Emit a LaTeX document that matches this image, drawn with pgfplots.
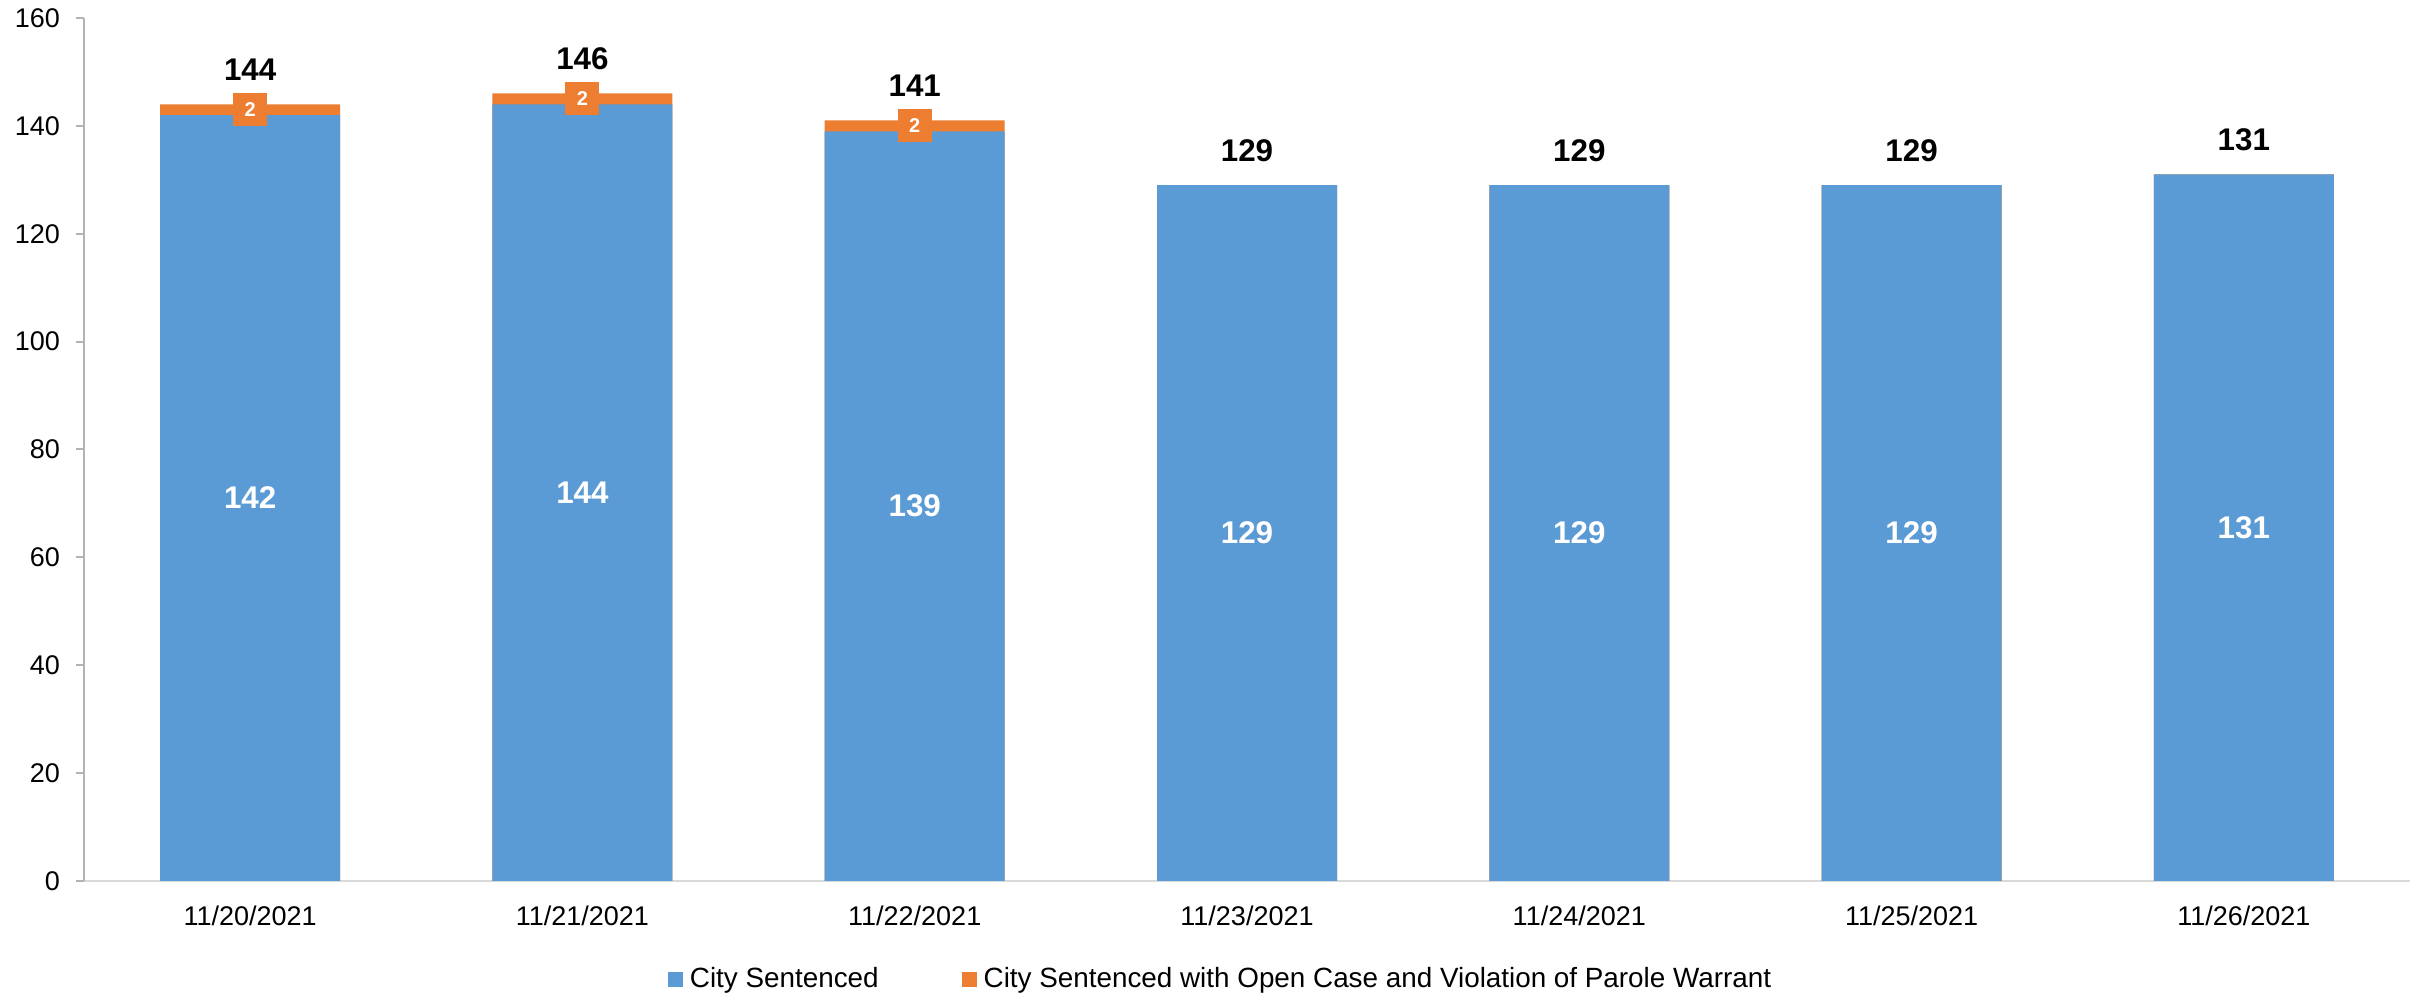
\documentclass[border=0pt]{standalone}
\usepackage{fontspec}
\setmainfont{Liberation Sans}
\usepackage{pgfplots}
\usepackage{pgfplotstable}
\pgfplotsset{compat=1.18}
\definecolor{cBlue}{HTML}{5B9BD5}
\definecolor{cOrange}{HTML}{ED7D31}
\definecolor{cYAxis}{HTML}{B3B3B3}
\definecolor{cXAxis}{HTML}{D9D9D9}
\pgfplotsset{
  sqlegend/.style={legend image code/.code={\fill[##1] (0pt,-2.25pt) rectangle (4.5pt,2.25pt);}},
}
\pgfplotstableread{
x blue orange total
0 142 2 144
1 144 2 146
2 139 2 141
3 129 0 129
4 129 0 129
5 129 0 129
6 131 0 131
}\datatable

\begin{document}
\begin{tikzpicture}
\useasboundingbox (-25.2pt,-34.5pt) rectangle (702.3pt,264.3pt);
\begin{axis}[
  at={(0pt,0pt)}, anchor=south west,
  scale only axis, width=697.8pt, height=258.9pt,
  ybar, bar width=54pt,
  xmin=-0.5, xmax=6.5, ymin=0, ymax=160,
  ytick={0,20,...,160},
  xtick={0,...,6},
  xticklabels={11/20/2021,11/21/2021,11/22/2021,11/23/2021,11/24/2021,11/25/2021,11/26/2021},
  axis x line*=bottom, axis y line*=left,
  x axis line style={draw=cXAxis, line width=0.6pt},
  y axis line style={draw=cYAxis, line width=0.6pt},
  xtick style={draw=none},
  ytick style={draw=cYAxis, line width=0.6pt},
  tick align=outside, major tick length=2.4pt,
  tick label style={font=\fontsize{8.1}{9.7}\selectfont},
  xticklabel style={yshift=-1.4pt},
  yticklabel style={xshift=-1.3pt},
  /pgf/number format/assume math mode=true,
  clip=false,
  legend style={at={(0.4897,-0.1147)}, anchor=center, draw=none, fill=none,
    font=\fontsize{8.35}{10}\selectfont,
    /tikz/every even column/.append style={column sep=23pt}},
  legend columns=2,
  legend cell align=left,
]
% orange: full-height bars (total), blue drawn over them
\addplot[fill=cOrange, draw=none, bar shift=0pt, forget plot]
  table[x=x, y=total]{\datatable};
\addplot[fill=cBlue, draw=none, bar shift=0pt, forget plot,
  point meta=explicit, nodes near coords,
  visualization depends on={rawy \as \rawy},
  every node near coord/.style={font=\fontsize{9.4}{11}\selectfont\bfseries, text=white, anchor=center, yshift={-\rawy*0.809pt}}]
  table[x=x, y=blue, meta=blue]{\datatable};
% labels of the orange segment
\addplot[draw=none, fill=none, bar shift=0pt, forget plot,
  point meta=explicit,
  nodes near coords={\pgfmathfloatifflags{\pgfplotspointmeta}{0}{}{\setlength{\fboxsep}{0pt}\colorbox{cOrange}{\makebox[10.2pt]{\rule[-2.85pt]{0pt}{9.9pt}\textcolor{white}{\fontsize{6}{7}\selectfont\bfseries\pgfmathprintnumber{\pgfplotspointmeta}}}}}},
  visualization depends on={\thisrow{orange} \as \og},
  every node near coord/.style={inner sep=0pt, anchor=center, yshift={-\og*0.809pt}}]
  table[x=x, y=total, meta=orange]{\datatable};
% totals
\addplot[draw=none, fill=none, bar shift=0pt, forget plot,
  point meta=explicit, nodes near coords,
  every node near coord/.style={font=\fontsize{9.4}{11}\selectfont\bfseries, text=black, anchor=base, yshift=7.2pt}]
  table[x=x, y=total, meta=total]{\datatable};
\addlegendimage{sqlegend, fill=cBlue, draw=none}
\addlegendentry{City Sentenced}
\addlegendimage{sqlegend, fill=cOrange, draw=none}
\addlegendentry{City Sentenced with Open Case and Violation of Parole Warrant}
\end{axis}
\end{tikzpicture}
\end{document}
